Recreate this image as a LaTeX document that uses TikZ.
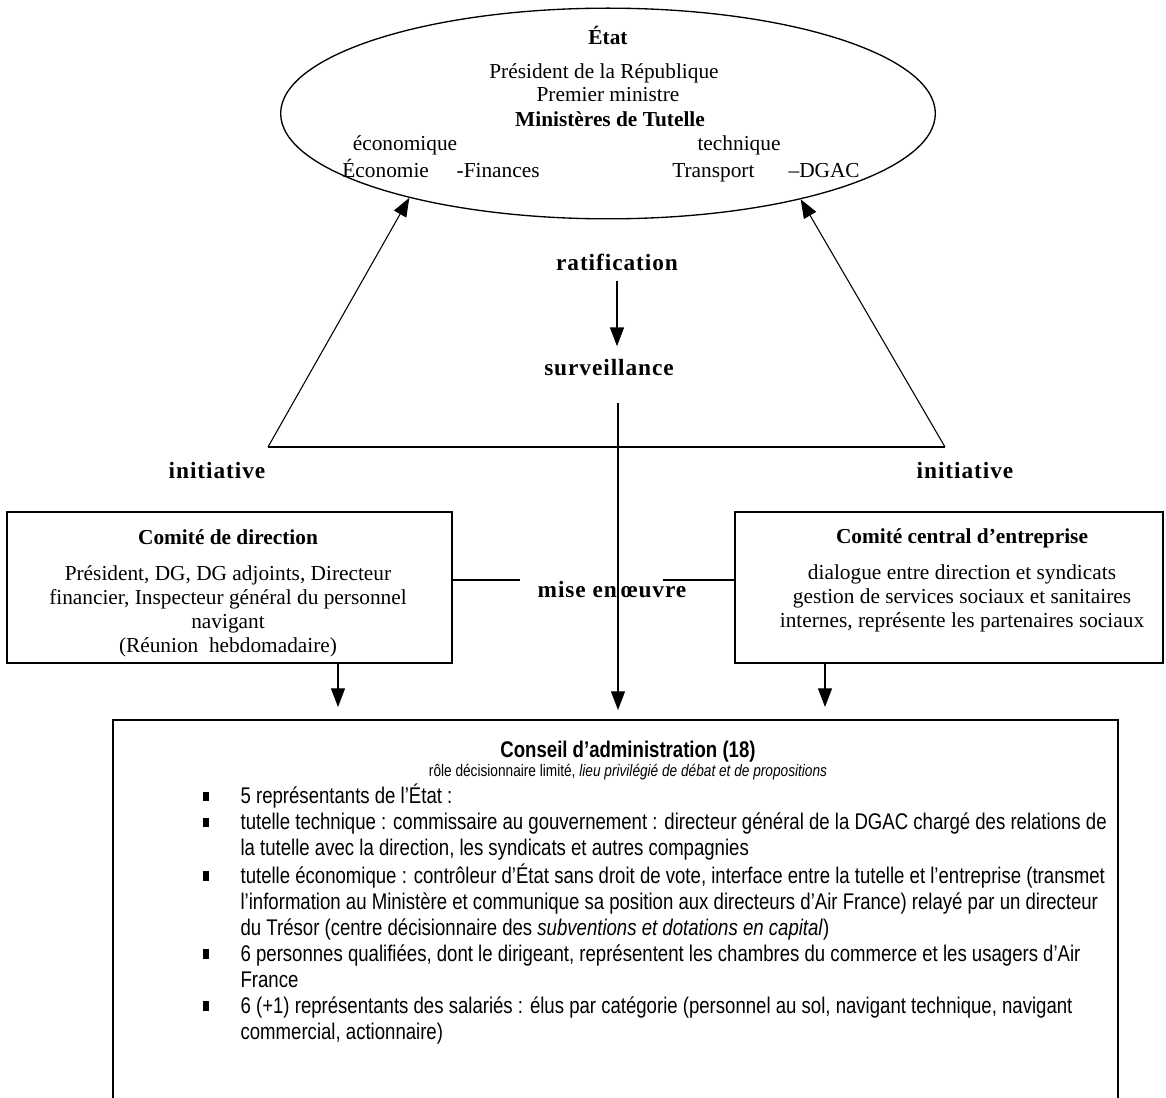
\documentclass[tikz,border=0pt]{standalone}
\usepackage{fontspec}
\setmainfont{Liberation Serif}
\newfontfamily\narrowfont[FakeStretch=0.82]{Liberation Sans}
\usetikzlibrary{shapes.geometric,arrows.meta}

\newcommand{\caBullet}{\rule[2pt]{4pt}{7pt}}

\begin{document}
\begin{tikzpicture}
[x=0.75pt,y=-0.75pt,
  lineDecorate/.style={-,line width=0.8pt},
  arrowDecorate/.style={-{Triangle[length=14pt,width=10.5pt]},line width=0.8pt},
  boxDecorate/.style={shape=rectangle,draw,line width=1.5pt,inner sep=0pt},
  serifText/.style={font=\fontsize{16}{18}\selectfont,align=center,inner sep=0pt},
  baseText/.style={font=\fontsize{16}{18}\selectfont,anchor=base,inner sep=0pt},
  tagText/.style={font=\fontsize{17.5}{19}\selectfont\bfseries\addfontfeature{LetterSpace=4},inner sep=0pt}]
\useasboundingbox (0,0) rectangle (1166,1098);
%% the state
\node (etat) at (608,113.5) [shape=ellipse,draw,line width=1pt,minimum width=491pt,minimum height=158pt,inner sep=0pt] {};
\node (etatTitle) at (608,45) [baseText,font=\fontsize{16}{18}\selectfont\bfseries] {État};
\foreach \nodename/\x/\y/\txt in {
  presRep/604/79/{Président de la République},
  premMin/608/102/{Premier ministre},
  tutEco/405/151/{économique},
  tutTech/739/151/{technique},
  minEco/441/178/{Économie\hspace{1.3em}-Finances},
  minTech/766/178/{Transport\hspace{1.6em}–DGAC}}
{
  \node (\nodename) at (\x,\y) [baseText] {\txt};
}
\node (tutelle) at (610,127) [baseText,font=\fontsize{16}{18}\selectfont\bfseries] {Ministères de Tutelle};
%% labels
\node (rat) at (617,262) [tagText] {ratification};
\node (surv) at (609,368) [tagText] {surveillance};
\node (initL) at (217,471) [tagText] {initiative};
\node (initR) at (965,471) [tagText] {initiative};
\node (mise) at (612,590) [tagText] {mise en\,œuvre};
%% boxes
\node (cdBox) at (229.5,587.5) [boxDecorate,minimum width=333.75pt,minimum height=113.25pt] {};
\node (cdText) at (228,593) [serifText] {\textbf{Comité de direction}\\[9pt]
  Président, DG, DG adjoints, Directeur\\
  financier, Inspecteur général du personnel\\
  navigant\\
  (Réunion\ \ hebdomadaire)};
\node (ceBox) at (949,587.5) [boxDecorate,minimum width=321pt,minimum height=113.25pt] {};
\node (ceText) at (962,580.5) [serifText] {\textbf{Comité central d’entreprise}\\[9pt]
  dialogue entre direction et syndicats\\
  gestion de services sociaux et sanitaires\\
  internes, représente les partenaires sociaux};
\node (caBox) at (615.5,719) [boxDecorate,anchor=north,minimum width=753.75pt,minimum height=320pt] {};
\node (caTitle) at (628,752) [font=\narrowfont\fontsize{17}{19.5}\selectfont\bfseries,inner sep=0pt] {Conseil d’administration (18)};
\node (caSub) at (628,772) [font=\narrowfont\fontsize{12.5}{14}\selectfont,inner sep=0pt] {rôle décisionnaire limité, \textit{lieu privilégié de débat et de propositions}};
\node (caList) at (203,784) [anchor=north west,inner sep=0pt,font=\narrowfont\fontsize{17}{19.5}\selectfont] {%
  \begin{tabular}{@{}l@{\hspace{24pt}}l@{}}
  \caBullet & 5 représentants de l’État :\\
  \caBullet & tutelle technique : commissaire au gouvernement : directeur général de la DGAC chargé des relations de\\
   & la tutelle avec la direction, les syndicats et autres compagnies\\
  \caBullet & tutelle économique : contrôleur d’État sans droit de vote, interface entre la tutelle et l’entreprise (transmet\\
   & l’information au Ministère et communique sa position aux directeurs d’Air France) relayé par un directeur\\
   & du Trésor (centre décisionnaire des \textit{subventions et dotations en capital})\\
  \caBullet & 6 personnes qualifiées, dont le dirigeant, représentent les chambres du commerce et les usagers d’Air\\
   & France\\
  \caBullet & 6 (+1) représentants des salariés : élus par catégorie (personnel au sol, navigant technique, navigant\\
   & commercial, actionnaire)
  \end{tabular}};
%% edges or lines
\coordinate (initCornerL) at (268,447);
\coordinate (initCornerR) at (945,447);
\coordinate (miseL) at (520,580);
\coordinate (miseR) at (663,580);
\coordinate (cdTip) at (338,707);
\coordinate (ceTip) at (825,707);
\coordinate (caTip) at (618,710);
\draw[arrowDecorate] (initCornerL) -- (etat.203);
\draw[arrowDecorate] (initCornerR) -- (etat.336);
\draw[lineDecorate] (initCornerL) -- (initCornerR);
\draw[arrowDecorate] ([yshift=-8pt]rat.south) -- ([yshift=10pt]rat.south |- surv.north);
\draw[arrowDecorate] ([yshift=-20pt]surv.south -| caTip) -- (caTip);
\draw[lineDecorate] (cdBox.east |- miseL) -- (miseL);
\draw[lineDecorate] (miseR) -- (ceBox.west |- miseR);
\draw[arrowDecorate] (cdBox.south -| cdTip) -- (cdTip);
\draw[arrowDecorate] (ceBox.south -| ceTip) -- (ceTip);
\end{tikzpicture}
\end{document}
